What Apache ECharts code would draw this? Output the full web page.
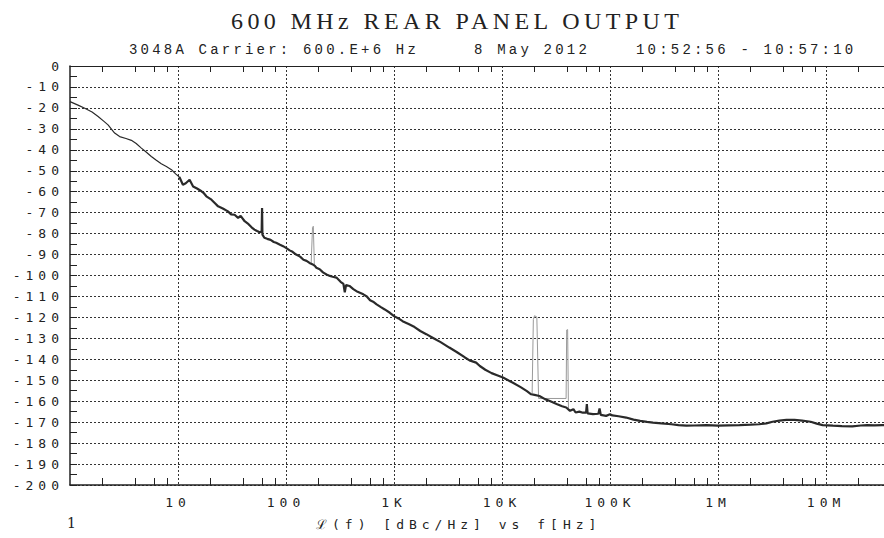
<!DOCTYPE html>
<html><head><meta charset="utf-8">
<script src="https://cdn.jsdelivr.net/npm/echarts@6/dist/echarts.min.js"></script>
<style>
html,body{margin:0;padding:0;background:#fff;}
#c{width:884px;height:538px;}
svg text[style*="DejaVu Sans Mono"]{letter-spacing:5px;}
svg text[style*="Liberation Mono"]{letter-spacing:3.2px;}
svg text[style*="Liberation Serif"]{letter-spacing:4.4px;}
</style></head><body><div id="c"></div>
<script>
// ---- data ----
const titleText = '600 MHz REAR PANEL OUTPUT';
const subtitleLeft = '3048A Carrier: 600.E+6 Hz';
const subtitleDate = '8 May 2012';
const subtitleTime = '10:52:56 - 10:57:10';
const xAxisCaption = 'ℒ(f) [dBc/Hz] vs f[Hz]';
const cornerLabel = '1';

const xTickValues = [10, 100, 1000, 10000, 100000, 1000000, 10000000];
const xTickLabels = ['10', '100', '1K', '10K', '100K', '1M', '10M'];
const xMinorMultipliers = [2, 4, 6, 8];
const xMin = 1, xMax = 34400000;
const yMin = -200, yMax = 0, yStep = 10;

// smooth part of the trace, 1 Hz .. 10 Hz
const lowFreqHz = [1, 1.2, 1.37, 1.6, 1.82, 2.05, 2.25, 2.59, 2.88, 3.3, 3.7, 4.1, 4.58, 5.1, 5.66, 6.3, 7.0, 7.8, 8.7, 9.5, 10.3];
const lowDbc = [-17, -18.8, -20.2, -22, -24.1, -26.3, -28.1, -32, -33.7, -34.6, -35.5, -37, -39.2, -41.2, -43.2, -45, -46.7, -48, -49.5, -51.5, -53];

// noisy part of the trace, 10 Hz .. 34 MHz
const highFreqHz = [
  10.3, 11.1, 11.8, 12.8, 13.8, 15, 16.5, 17.2, 18.3, 20.4, 22, 23.5, 26, 29, 31, 33.4, 36, 38, 41.4, 45,
  48, 51, 54, 57, 59.5, 60, 60.5, 63, 67, 72, 77, 81, 88, 94, 100, 108, 115, 124, 135, 145,
  155, 165, 175, 185, 191, 205, 220, 237, 255, 270, 293, 320, 340, 350, 360, 387, 420, 460, 520, 560,
  600, 640, 690, 750, 820, 915, 1000, 1100, 1200, 1380, 1550, 1750, 1990, 2300, 2700, 3250, 3800, 4500, 5000, 5760,
  6230, 7000, 8000, 9000, 10200, 12500, 15000, 17000, 18600, 20000, 22200, 25000, 27700, 32000, 36000, 39300, 42600, 45800, 48000, 52000,
  56000, 60000, 61000, 62000, 69500, 78000, 80000, 82000, 92000, 100000, 105000, 120000, 141000, 165000, 190000, 220000, 250000, 300000, 370000, 430000,
  510000, 600000, 780000, 1000000, 1250000, 1580000, 2000000, 2400000, 2800000, 3200000, 3700000, 4300000, 5100000, 6000000, 7200000, 8200000, 9300000, 11600000, 14000000, 17500000,
  21000000, 24000000, 28000000, 33000000, 34400000
];
const highDbc = [
  -53, -56.7, -56, -54.3, -57.5, -58.5, -59.8, -60.5, -62.2, -63.8, -65.5, -67, -68, -69.4, -70.8, -71, -72.5, -71.5, -74.1, -75.5,
  -77, -78.1, -78.8, -79.4, -79, -67.8, -80.5, -82, -82.5, -83, -84, -84.4, -85.3, -86, -86.8, -88, -88.7, -90, -91, -92.5,
  -93, -94, -94.6, -95.4, -96.3, -97, -98.5, -99.5, -100.2, -100.6, -101, -103, -104, -108, -104.5, -105, -106.5, -107.8, -109, -110,
  -111.8, -112.5, -113.8, -115, -116.2, -117.8, -119.4, -120.5, -121.8, -123.3, -124.6, -126.5, -128, -129.8, -131.8, -134.4, -136.5, -139, -140.5, -141.6,
  -143.2, -145, -146.6, -147.6, -148.7, -151.1, -153.4, -155.2, -156.7, -157, -157.5, -159, -159.9, -161.3, -162.4, -163, -164.6, -163.8, -165.4, -165,
  -165.5, -165.5, -161.4, -165.8, -166.2, -166, -163.5, -166.5, -167, -166.2, -166.8, -167.2, -167.8, -168.8, -169.4, -169.9, -170.2, -170.6, -171, -171.4,
  -171.7, -171.6, -171.4, -171.7, -171.5, -171.4, -171.2, -171, -170.6, -169.8, -169.3, -168.9, -168.9, -169.3, -169.8, -170.7, -171.4, -171.7, -171.9, -172,
  -171.6, -171.4, -171.5, -171.4, -171.4
];
const spur180Hz = [171, 176, 179, 183];
const spur180Dbc = [-94, -77, -76.5, -95];
const spur20kHz = [19000, 19500, 20000, 21000, 21800, 39200, 39700, 40500, 41200];
const spur20kDbc = [-156.5, -121, -119.2, -119.8, -158.7, -158.7, -126, -125.8, -163.5];

// ---- build ----
const zip = (a, b) => a.map((v, i) => [v, b[i]]);
const minorTicks = [];
for (let d = 1; d <= 1e7; d *= 10) xMinorMultipliers.forEach(m => { if (m * d < xMax) minorTicks.push(m * d); });
const labelOf = v => { const i = xTickValues.findIndex(t => Math.abs(t - v) / t < 1e-6); return i >= 0 ? xTickLabels[i] : ''; };

const axisFont = 'DejaVu Sans Mono';
const subFont = 'Liberation Mono';
const ink = '#222';
const chart = echarts.init(document.getElementById('c'), null, { renderer: 'svg' });
chart.setOption({
  animation: false,
  backgroundColor: '#fff',
  title: [
    { text: titleText, left: 226, top: 4, textStyle: { fontFamily: 'Liberation Serif', fontSize: 24, fontWeight: 'normal', color: ink } },
    { text: subtitleLeft, left: 124, top: 38, textStyle: { fontFamily: subFont, fontSize: 14, fontWeight: 'normal', color: ink } },
    { text: subtitleDate, left: 469, top: 38, textStyle: { fontFamily: subFont, fontSize: 14, fontWeight: 'normal', color: ink } },
    { text: subtitleTime, left: 631, top: 38, textStyle: { fontFamily: subFont, fontSize: 14, fontWeight: 'normal', color: ink } },
    { text: xAxisCaption, left: 311, top: 513, textStyle: { fontFamily: axisFont, fontSize: 13, fontWeight: 'normal', color: ink } },
    { text: cornerLabel, left: 62, top: 511, textStyle: { fontFamily: 'DejaVu Serif', fontSize: 14, fontWeight: 'normal', color: ink } }
  ],
  grid: { left: 70, right: 0, top: 66, bottom: 53, containLabel: false },
  xAxis: [
    {
      type: 'log', logBase: 10, min: xMin, max: xMax, position: 'bottom',
      axisLine: { onZero: false, lineStyle: { color: ink, width: 1.5 } },
      axisTick: { inside: true, length: 7, customValues: minorTicks, lineStyle: { color: ink, width: 1 } },
      axisLabel: { customValues: xTickValues, formatter: labelOf, fontFamily: axisFont, fontSize: 13, color: ink, margin: 11 },
      splitLine: { show: false }
    },
    {
      type: 'log', logBase: 10, min: xMin, max: xMax, position: 'top',
      axisLine: { onZero: false, lineStyle: { color: ink, width: 1.2 } },
      axisTick: { inside: true, length: 6, customValues: minorTicks, lineStyle: { color: ink, width: 1 } },
      axisLabel: { show: false },
      splitLine: { show: false }
    },
    {
      type: 'log', logBase: 10, min: xMin, max: xMax, position: 'bottom',
      axisLine: { show: false, onZero: false },
      axisTick: { show: false, customValues: xTickValues },
      axisLabel: { show: false },
      splitLine: { show: true, lineStyle: { color: '#333', width: 1, type: [2, 2] } }
    }
  ],
  yAxis: {
    type: 'value', min: yMin, max: yMax, interval: yStep,
    axisLine: { onZero: false, lineStyle: { color: ink, width: 1.5 } },
    axisTick: { inside: true, length: 7, lineStyle: { color: ink } },
    minorTick: { show: true, splitNumber: 2, length: 7, lineStyle: { color: ink } },
    axisLabel: { fontFamily: axisFont, fontSize: 13, color: ink, margin: 6 },
    splitLine: { show: true, lineStyle: { color: '#333', width: 1, type: [2, 2] } }
  },
  series: [
    { type: 'line', name: 'noise low', xAxisIndex: 0, data: zip(lowFreqHz, lowDbc), showSymbol: false, lineStyle: { color: '#2a2a2a', width: 1.2 }, z: 3 },
    { type: 'line', name: 'noise', xAxisIndex: 0, data: zip(highFreqHz, highDbc), showSymbol: false, lineStyle: { color: '#2a2a2a', width: 2.2 }, z: 3 },
    { type: 'line', name: 'spur180', xAxisIndex: 0, data: zip(spur180Hz, spur180Dbc), showSymbol: false, lineStyle: { color: '#9a9a9a', width: 1 }, z: 2 },
    { type: 'line', name: 'spur20k', xAxisIndex: 0, data: zip(spur20kHz, spur20kDbc), showSymbol: false, lineStyle: { color: '#9a9a9a', width: 1 }, z: 2 }
  ]
});
</script></body></html>
